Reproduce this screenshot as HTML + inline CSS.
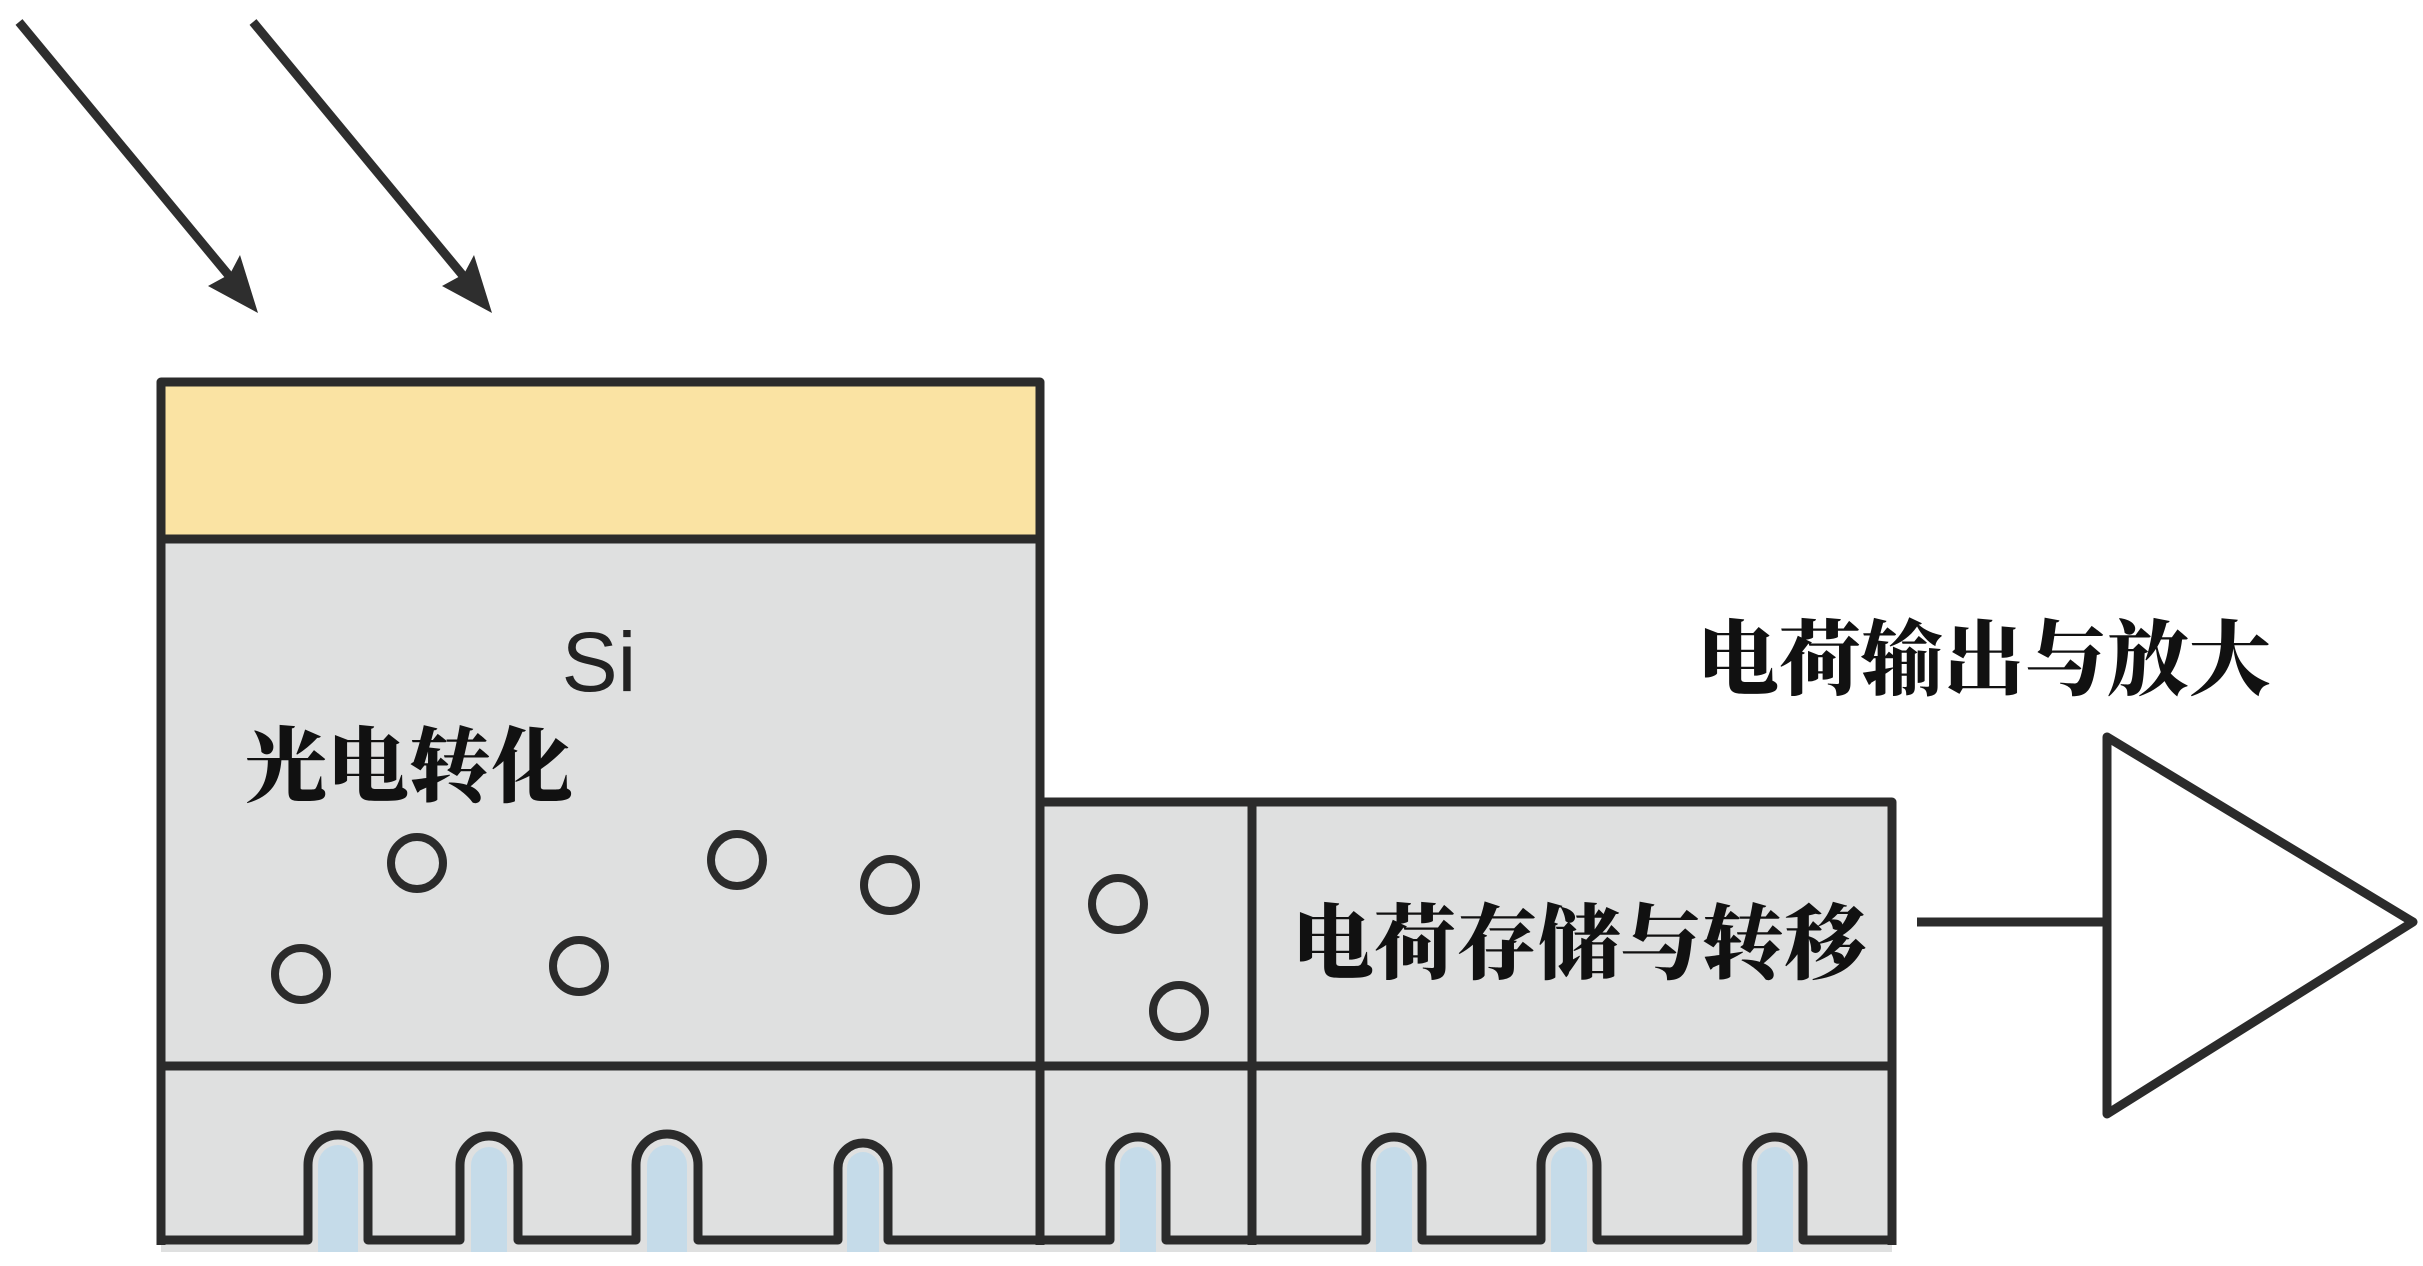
<!DOCTYPE html>
<html><head><meta charset="utf-8"><style>
html,body{margin:0;padding:0;background:#fff;}
svg{display:block;}
.cn{font-family:"Liberation Serif","Noto Serif CJK SC",serif;font-weight:900;fill:#111;}
</style></head><body>
<svg width="2423" height="1266" viewBox="0 0 2423 1266" xmlns="http://www.w3.org/2000/svg">
<!-- light arrows -->
<g stroke="#2e2e2e" stroke-width="9" fill="#2e2e2e">
<line x1="19" y1="22" x2="245" y2="295"/>
<polygon points="258,313 208,286 230,274 240,255" stroke="none"/>
<line x1="253" y1="22" x2="479" y2="295"/>
<polygon points="492,313 442,286 464,274 474,255" stroke="none"/>
</g>
<!-- fills -->
<rect x="161" y="382" width="879" height="870" fill="#dfe0e0"/>
<rect x="161" y="382" width="879" height="157" fill="#fae3a3"/>
<rect x="1040" y="800" width="852" height="452" fill="#dfe0e0"/>
<g fill="#c5dbe9">
<path d="M318,1252 V1165 A20,20 0 0 1 358,1165 V1252 Z"/>
<path d="M471,1252 V1165 A18,18 0 0 1 507,1165 V1252 Z"/>
<path d="M647,1252 V1165 A20,20 0 0 1 687,1165 V1252 Z"/>
<path d="M847,1252 V1168 A16,16 0 0 1 879,1168 V1252 Z"/>
<path d="M1120,1252 V1165 A18,18 0 0 1 1156,1165 V1252 Z"/>
<path d="M1376,1252 V1165 A18,18 0 0 1 1412,1165 V1252 Z"/>
<path d="M1551,1252 V1165 A18,18 0 0 1 1587,1165 V1252 Z"/>
<path d="M1757,1252 V1165 A18,18 0 0 1 1793,1165 V1252 Z"/>
</g>
<g stroke="#2b2b2b" stroke-width="9" fill="none" stroke-linejoin="round">
<path d="M161,1245 V382 H1040 V1245"/>
<line x1="161" y1="539" x2="1040" y2="539"/>
<line x1="161" y1="1066" x2="1892" y2="1066"/>
<path d="M1040,802 H1892 V1245"/>
<line x1="1252" y1="802" x2="1252" y2="1245"/>
<path d="M161,1240 H308 V1165 A30,30 0 0 1 368,1165 V1240 H460 V1165 A29,29 0 0 1 518,1165 V1240 H636 V1165 A31,31 0 0 1 698,1165 V1240 H838 V1168 A25,25 0 0 1 888,1168 V1240 H1110 V1165 A28,28 0 0 1 1166,1165 V1240 H1366 V1165 A28,28 0 0 1 1422,1165 V1240 H1541 V1165 A28,28 0 0 1 1597,1165 V1240 H1747 V1165 A28,28 0 0 1 1803,1165 V1240 H1892"/>
<line x1="1917" y1="922" x2="2107" y2="922"/>
<polygon points="2107,737 2107,1114 2413,922"/>
</g>
<g stroke="#2b2b2b" stroke-width="8" fill="none">
<circle cx="417" cy="863" r="26"/>
<circle cx="737" cy="860" r="26"/>
<circle cx="890" cy="885" r="26"/>
<circle cx="301" cy="974" r="26"/>
<circle cx="579" cy="966" r="26"/>
<circle cx="1118" cy="904" r="26"/>
<circle cx="1179" cy="1011" r="26"/>
</g>
<text x="599" y="691" font-family="Liberation Sans, sans-serif" font-size="84" fill="#222" text-anchor="middle">Si</text>
<text x="245" y="795" class="cn" font-size="82">光电转化</text>
<text x="1292" y="972" class="cn" font-size="82">电荷存储与转移</text>
<text x="1697" y="688" class="cn" font-size="82">电荷输出与放大</text>
</svg>
</body></html>
